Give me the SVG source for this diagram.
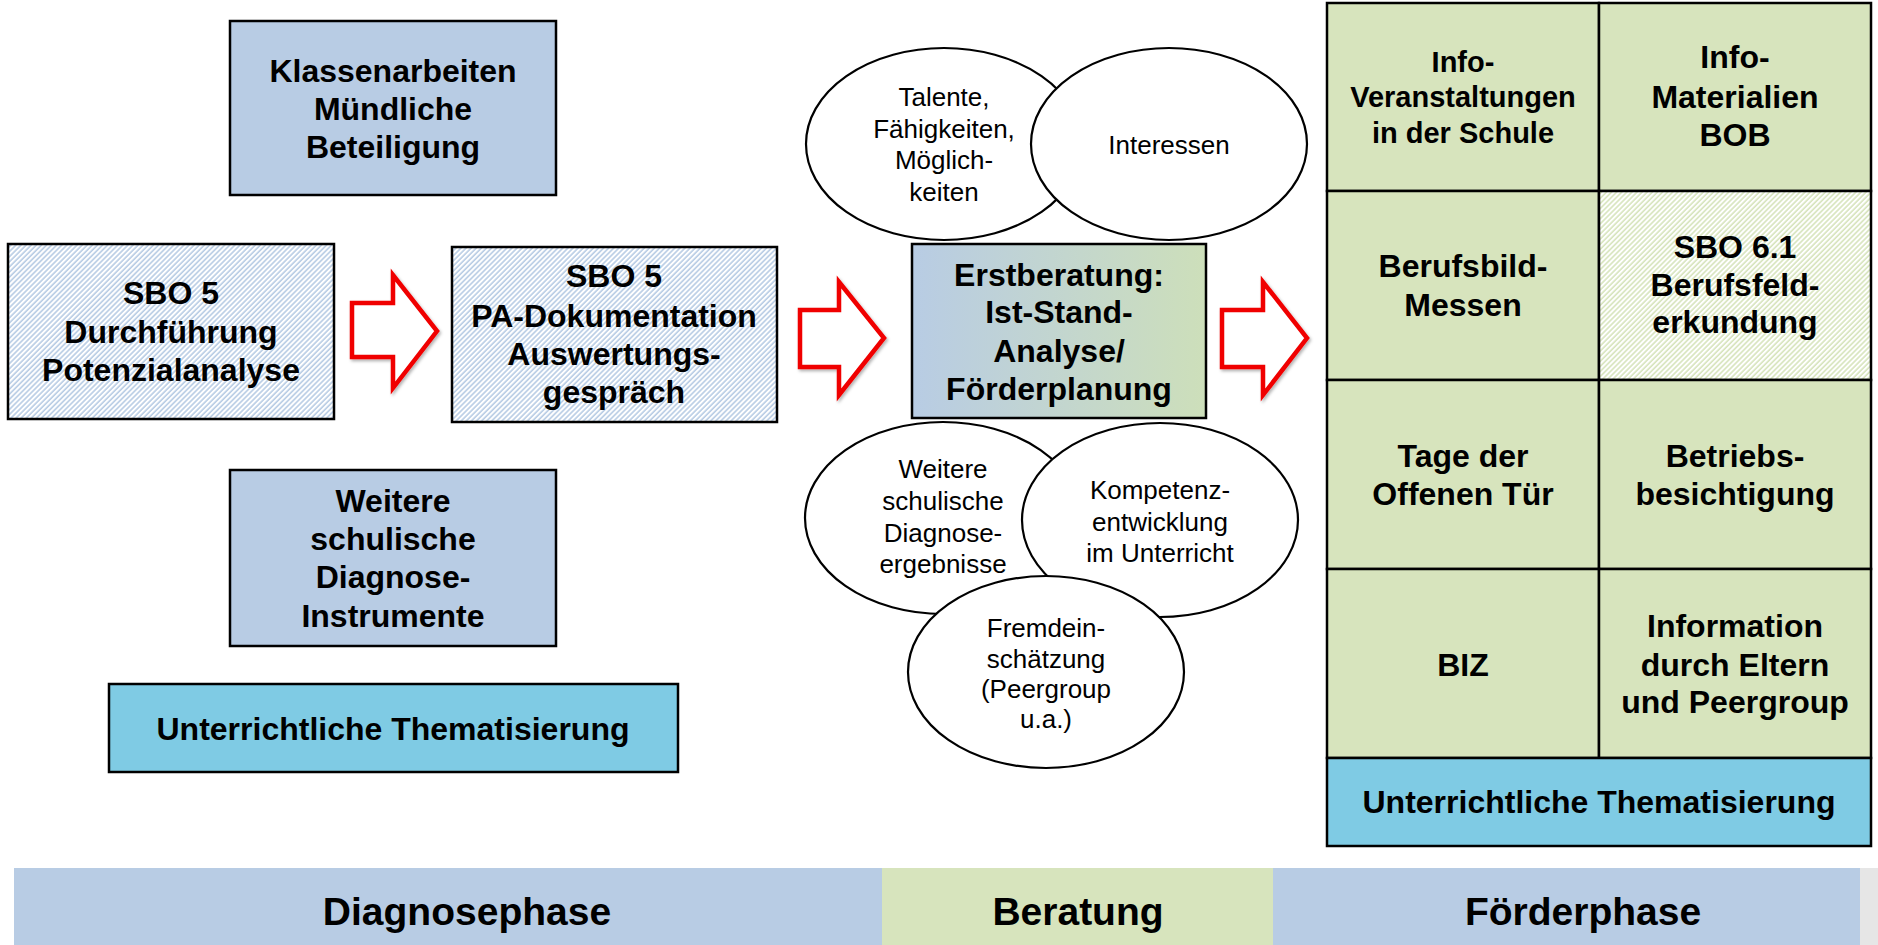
<svg xmlns="http://www.w3.org/2000/svg" width="1878" height="945" viewBox="0 0 1878 945">
<defs>
<pattern id="hatchBlue" patternUnits="userSpaceOnUse" width="3.6" height="10" patternTransform="rotate(45)">
<rect width="3.6" height="10" fill="#ffffff"/>
<line x1="1" y1="0" x2="1" y2="10" stroke="#b8cce4" stroke-width="1.6"/>
</pattern>
<pattern id="hatchGreen" patternUnits="userSpaceOnUse" width="3.6" height="10" patternTransform="rotate(45)">
<rect width="3.6" height="10" fill="#ffffff"/>
<line x1="1" y1="0" x2="1" y2="10" stroke="#d7e4bd" stroke-width="1.6"/>
</pattern>
<linearGradient id="gradBG" x1="0" y1="0" x2="1" y2="0">
<stop offset="0" stop-color="#b8cce4"/>
<stop offset="1" stop-color="#cddfba"/>
</linearGradient>
<filter id="shadow" x="-10%" y="-10%" width="130%" height="130%">
<feDropShadow dx="1.5" dy="2" stdDeviation="1.5" flood-color="#000" flood-opacity="0.3"/>
</filter>
</defs>
<style>
.box{stroke:#000;stroke-width:2.5}
.blue{fill:#b8cce4}
.green{fill:#d7e4bd}
.sky{fill:#7fcbe4}
.ell{fill:#ffffff;stroke:#000;stroke-width:2.2}
.arrow{fill:#ffffff;stroke:#f00000;stroke-width:4.5;stroke-linejoin:miter;filter:url(#shadow)}
.b{font-family:"Liberation Sans",Arial,sans-serif;font-weight:bold;font-size:32px;fill:#000;text-anchor:middle}
.r{font-family:"Liberation Sans",Arial,sans-serif;font-size:26px;fill:#000;text-anchor:middle}
.ph{font-family:"Liberation Sans",Arial,sans-serif;font-weight:bold;font-size:39px;fill:#000;text-anchor:middle}
</style>
<rect width="1878" height="945" fill="#ffffff"/>

<g id="klassenarbeiten">
<rect class="box blue" x="230" y="21" width="326" height="174"/>
<text class="b" x="393" y="82">Klassenarbeiten</text>
<text class="b" x="393" y="120">Mündliche</text>
<text class="b" x="393" y="158">Beteiligung</text>
</g>

<g id="sbo5-durchfuehrung">
<rect class="box" fill="url(#hatchBlue)" x="8" y="244" width="326" height="175"/>
<text class="b" x="171" y="304">SBO 5</text>
<text class="b" x="171" y="343">Durchführung</text>
<text class="b" x="171" y="381">Potenzialanalyse</text>
</g>

<g id="sbo5-dokumentation">
<rect class="box" fill="url(#hatchBlue)" x="452" y="247" width="325" height="175"/>
<text class="b" x="614" y="287">SBO 5</text>
<text class="b" x="614" y="327">PA-Dokumentation</text>
<text class="b" x="614" y="365">Auswertungs-</text>
<text class="b" x="614" y="403">gespräch</text>
</g>

<g id="weitere-instrumente">
<rect class="box blue" x="230" y="470" width="326" height="176"/>
<text class="b" x="393" y="512">Weitere</text>
<text class="b" x="393" y="550">schulische</text>
<text class="b" x="393" y="588">Diagnose-</text>
<text class="b" x="393" y="627">Instrumente</text>
</g>

<g id="unterricht-links">
<rect class="box sky" x="109" y="684" width="569" height="88"/>
<text class="b" x="393" y="740">Unterrichtliche Thematisierung</text>
</g>

<g id="connectors">
<polygon class="arrow" points="352,303 393,303 393,275 437,331 393,388 393,357 352,357"/>
<polygon class="arrow" points="800,310 839,310 839,282 884,338 839,395 839,367 800,367"/>
<polygon class="arrow" points="1222,310 1263,310 1263,282 1307,338 1263,395 1263,367 1222,367"/>
</g>

<g id="talente">
<ellipse class="ell" cx="944" cy="144" rx="138" ry="96"/>
<text class="r" x="944" y="106">Talente,</text>
<text class="r" x="944" y="138">Fähigkeiten,</text>
<text class="r" x="944" y="169">Möglich-</text>
<text class="r" x="944" y="201">keiten</text>
</g>

<g id="interessen">
<ellipse class="ell" cx="1169" cy="144" rx="138" ry="96"/>
<text class="r" x="1169" y="154">Interessen</text>
</g>

<g id="erstberatung">
<rect class="box" fill="url(#gradBG)" x="912" y="244" width="294" height="174"/>
<text class="b" x="1059" y="286">Erstberatung:</text>
<text class="b" x="1059" y="323">Ist-Stand-</text>
<text class="b" x="1059" y="362">Analyse/</text>
<text class="b" x="1059" y="400">Förderplanung</text>
</g>

<g id="weitere-ergebnisse">
<ellipse class="ell" cx="943" cy="518" rx="138" ry="96"/>
<text class="r" x="943" y="478">Weitere</text>
<text class="r" x="943" y="510">schulische</text>
<text class="r" x="943" y="542">Diagnose-</text>
<text class="r" x="943" y="573">ergebnisse</text>
</g>

<g id="kompetenz">
<ellipse class="ell" cx="1160" cy="520" rx="138" ry="97"/>
<text class="r" x="1160" y="499">Kompetenz-</text>
<text class="r" x="1160" y="531">entwicklung</text>
<text class="r" x="1160" y="562">im Unterricht</text>
</g>

<g id="fremdeinschaetzung">
<ellipse class="ell" cx="1046" cy="672" rx="138" ry="96"/>
<text class="r" x="1046" y="637">Fremdein-</text>
<text class="r" x="1046" y="668">schätzung</text>
<text class="r" x="1046" y="698">(Peergroup</text>
<text class="r" x="1046" y="728">u.a.)</text>
</g>

<g id="info-veranstaltungen">
<rect class="box green" x="1327" y="3" width="272" height="188"/>
<text class="b" x="1463" y="72" style="font-size:29px">Info-</text>
<text class="b" x="1463" y="107" style="font-size:29px">Veranstaltungen</text>
<text class="b" x="1463" y="143" style="font-size:29px">in der Schule</text>
</g>

<g id="info-materialien">
<rect class="box green" x="1599" y="3" width="272" height="188"/>
<text class="b" x="1735" y="68">Info-</text>
<text class="b" x="1735" y="108">Materialien</text>
<text class="b" x="1735" y="146">BOB</text>
</g>

<g id="berufsbild-messen">
<rect class="box green" x="1327" y="191" width="272" height="189"/>
<text class="b" x="1463" y="277">Berufsbild-</text>
<text class="b" x="1463" y="316">Messen</text>
</g>

<g id="sbo61">
<rect class="box" fill="url(#hatchGreen)" x="1599" y="191" width="272" height="189"/>
<text class="b" x="1735" y="258">SBO 6.1</text>
<text class="b" x="1735" y="296">Berufsfeld-</text>
<text class="b" x="1735" y="333">erkundung</text>
</g>

<g id="tage-offene-tuer">
<rect class="box green" x="1327" y="380" width="272" height="189"/>
<text class="b" x="1463" y="467">Tage der</text>
<text class="b" x="1463" y="505">Offenen Tür</text>
</g>

<g id="betriebsbesichtigung">
<rect class="box green" x="1599" y="380" width="272" height="189"/>
<text class="b" x="1735" y="467">Betriebs-</text>
<text class="b" x="1735" y="505">besichtigung</text>
</g>

<g id="biz">
<rect class="box green" x="1327" y="569" width="272" height="189"/>
<text class="b" x="1463" y="676">BIZ</text>
</g>

<g id="information-eltern">
<rect class="box green" x="1599" y="569" width="272" height="189"/>
<text class="b" x="1735" y="637">Information</text>
<text class="b" x="1735" y="676">durch Eltern</text>
<text class="b" x="1735" y="713">und Peergroup</text>
</g>

<g id="unterricht-rechts">
<rect class="box sky" x="1327" y="758" width="544" height="88"/>
<text class="b" x="1599" y="813">Unterrichtliche Thematisierung</text>
</g>

<g id="phase-diagnose">
<rect class="blue" x="14" y="868" width="868" height="77"/>
<text class="ph" x="467" y="925">Diagnosephase</text>
</g>

<g id="phase-beratung">
<rect class="green" x="882" y="868" width="391" height="77"/>
<text class="ph" x="1078" y="925">Beratung</text>
</g>

<g id="phase-foerder">
<rect class="blue" x="1273" y="868" width="587" height="77"/>
<text class="ph" x="1583" y="925">Förderphase</text>
</g>

<g id="phase-rest">
<rect x="1860" y="868" width="18" height="77" fill="#e6e6e6"/>
</g>
</svg>
